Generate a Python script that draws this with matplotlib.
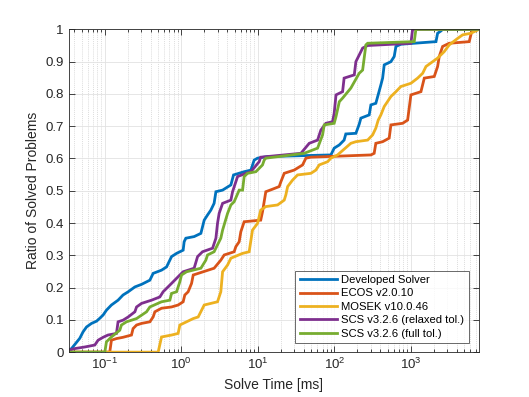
import numpy as np
import matplotlib
matplotlib.use("Agg")
import matplotlib.pyplot as plt
from matplotlib.ticker import LogLocator, FixedLocator, NullFormatter

plt.rcParams['font.family'] = ['Liberation Sans', 'DejaVu Sans']

labels = ["Developed Solver", "ECOS v2.0.10", "MOSEK v10.0.46",
          "SCS v3.2.6 (relaxed tol.)", "SCS v3.2.6 (full tol.)"]
colors = ["#0072BD", "#D95319", "#EDB120", "#7E2F8E", "#77AC30"]

# Solve times [ms] and ratios of solved problems (polyline vertices)
dev_t = [0.0338, 0.0367, 0.0471, 0.052, 0.0577, 0.067, 0.078, 0.086, 0.095, 0.105, 0.122,
         0.149, 0.173, 0.202, 0.247, 0.302, 0.388, 0.428, 0.551, 0.641, 0.745, 0.866, 1.056,
         1.088, 1.145, 1.47, 1.80, 1.99, 2.20, 2.43, 2.68, 2.83, 3.46, 4.44, 4.81, 6.62, 8.10,
         8.95, 9.91, 13.4, 90.0, 99.4, 116, 134, 141, 191, 211, 222, 285, 300, 348, 405, 427,
         448, 548, 605, 637, 740, 2125, 2234, 2466, 2595, 7700]
dev_r = [0.006, 0.011, 0.043, 0.063, 0.078, 0.089, 0.096, 0.105, 0.115, 0.130, 0.146,
         0.161, 0.177, 0.187, 0.202, 0.210, 0.223, 0.244, 0.254, 0.264, 0.296, 0.306, 0.316,
         0.342, 0.353, 0.358, 0.368, 0.409, 0.425, 0.440, 0.461, 0.497, 0.502, 0.518, 0.549, 0.559, 0.564,
         0.595, 0.601, 0.606, 0.611, 0.632, 0.642, 0.657, 0.676, 0.678, 0.706, 0.725, 0.735, 0.766, 0.771, 0.828, 0.849,
         0.890, 0.900, 0.916, 0.947, 0.954, 0.962, 0.988, 0.995, 1.0, 1.0]

ecos_t = [0.0338, 0.116, 0.122, 0.142, 0.173, 0.223, 0.234, 0.260, 0.302, 0.388, 0.428, 0.451,
          0.551, 0.745, 0.908, 1.056, 1.11, 1.227, 1.36, 1.43, 1.66, 2.68, 3.28, 3.63, 4.90,
          5.16, 5.70, 5.99, 6.62, 10.9, 11.5, 12.7, 15.6, 19.0, 20.0, 22.1, 25.6, 29.8, 38.4,
          42.4, 49.3, 300, 331, 348, 427, 520, 548, 780, 906, 1000, 1352, 1496, 2018, 2234,
          2345, 2595, 3169, 5781, 6220, 7447, 7700]
ecos_r = [0.0, 0.0, 0.037, 0.042, 0.046, 0.053, 0.073, 0.084, 0.089, 0.094, 0.109, 0.125,
          0.136, 0.140, 0.146, 0.156, 0.177, 0.187, 0.213, 0.239, 0.244, 0.260, 0.285, 0.301, 0.311,
          0.327, 0.342, 0.373, 0.404, 0.409, 0.435, 0.497, 0.505, 0.513, 0.528, 0.554, 0.559, 0.564, 0.580,
          0.601, 0.604, 0.611, 0.616, 0.647, 0.652, 0.663, 0.704, 0.709, 0.719, 0.797, 0.807, 0.849, 0.854, 0.885,
          0.916, 0.947, 0.957, 0.962, 0.993, 1.0, 1.0]

mosek_t = [0.0338, 0.498, 0.551, 0.745, 0.908, 0.956, 1.17, 1.43, 1.66, 1.99, 2.97, 3.28, 3.46,
           4.02, 4.44, 6.31, 7.70, 8.5, 9.91, 10.9, 12.7, 18.1, 22.1, 23.2, 24.5, 28.4, 33.0,
           49.3, 57.3, 63.3, 81.5, 90.0, 110, 164, 191, 272, 316, 348, 374, 405, 448, 548, 637,
           740, 1000, 1224, 1425, 1574, 1925, 2234, 2724, 3169, 4077, 4742, 6082, 7447, 7700]
mosek_r = [0.0, 0.0, 0.047, 0.053, 0.058, 0.084, 0.094, 0.104, 0.109, 0.146, 0.156, 0.187, 0.249,
           0.270, 0.291, 0.306, 0.311, 0.378, 0.399, 0.440, 0.451, 0.456, 0.471, 0.487, 0.513, 0.533, 0.549,
           0.554, 0.564, 0.580, 0.590, 0.601, 0.611, 0.647, 0.652, 0.657, 0.673, 0.694, 0.719, 0.735, 0.761, 0.792, 0.807,
           0.823, 0.833, 0.849, 0.864, 0.885, 0.900, 0.911, 0.931, 0.952, 0.972, 0.983, 0.988, 0.998, 1.0]

scs_rel_t = [0.0338, 0.0405, 0.0548, 0.074, 0.0817, 0.095, 0.110, 0.142, 0.149, 0.173, 0.202, 0.247,
             0.260, 0.302, 0.408, 0.524, 0.578, 0.745, 0.956, 1.056, 1.47, 1.63, 1.89, 2.56, 2.83,
             2.97, 3.12, 3.46, 4.44, 4.67, 5.43, 6.97, 8.10, 10.4, 10.9, 36.5, 46.9, 60.3, 66.6,
             77.4, 94.7, 99.4, 105, 128, 134, 182, 191, 234, 272, 1000, 1052, 7700]
scs_rel_r = [0.006, 0.011, 0.016, 0.022, 0.037, 0.046, 0.053, 0.058, 0.094, 0.099, 0.109, 0.125,
             0.140, 0.151, 0.161, 0.171, 0.187, 0.213, 0.239, 0.249, 0.260, 0.296, 0.311, 0.322, 0.353,
             0.399, 0.430, 0.461, 0.471, 0.497, 0.544, 0.554, 0.559, 0.590, 0.604, 0.616, 0.647, 0.657, 0.688,
             0.709, 0.714, 0.740, 0.797, 0.807, 0.849, 0.859, 0.900, 0.942, 0.950, 0.957, 1.0, 1.0]

scs_full_t = [0.0338, 0.1, 0.105, 0.122, 0.157, 0.165, 0.192, 0.260, 0.351, 0.388, 0.551, 0.708,
              0.745, 0.866, 0.956, 1.006, 1.17, 1.80, 2.09, 2.20, 2.68, 3.28, 3.46, 4.02, 4.44,
              4.90, 5.70, 6.31, 6.62, 7.33, 9.42, 11.5, 12.1, 12.7, 40.3, 60.3, 70.1, 73.6, 99.4,
              105, 116, 128, 164, 211, 234, 258, 272, 1105, 1162, 7700]
scs_full_r = [0.0, 0.0, 0.032, 0.047, 0.068, 0.084, 0.094, 0.104, 0.125, 0.140, 0.156, 0.161,
              0.182, 0.187, 0.218, 0.239, 0.249, 0.260, 0.285, 0.301, 0.311, 0.353, 0.378, 0.430, 0.456,
              0.466, 0.502, 0.502, 0.544, 0.554, 0.559, 0.580, 0.595, 0.601, 0.616, 0.632, 0.673, 0.704, 0.709,
              0.730, 0.776, 0.787, 0.818, 0.864, 0.874, 0.952, 0.957, 0.962, 1.0, 1.0]

series = [(dev_t, dev_r), (ecos_t, ecos_r), (mosek_t, mosek_r),
          (scs_rel_t, scs_rel_r), (scs_full_t, scs_full_r)]

xticks = [1e-1, 1e0, 1e1, 1e2, 1e3]
yticks = [0, 0.1, 0.2, 0.3, 0.4, 0.5, 0.6, 0.7, 0.8, 0.9, 1]
ytick_labels = ["0", "0.1", "0.2", "0.3", "0.4", "0.5", "0.6", "0.7", "0.8", "0.9", "1"]

fig = plt.figure(figsize=(5.29, 3.97), dpi=100)
ax = fig.add_axes([0.13, 0.113, 0.775, 0.813])

for (t, r), c, lab in zip(series, colors, labels):
    ax.plot(t, r, color=c, lw=2.0, label=lab, solid_joinstyle='miter')

ax.set_xscale('log')
ax.set_xlim(0.0338, 7700)
ax.set_ylim(0, 1)
ax.xaxis.set_major_locator(FixedLocator(xticks))
ax.xaxis.set_minor_locator(LogLocator(base=10, subs=np.arange(2, 10), numticks=20))
ax.xaxis.set_minor_formatter(NullFormatter())
ax.set_yticks(yticks)
ax.set_yticklabels(ytick_labels)

ax.grid(True, which='major', color='#e2e2e2', lw=0.6, ls='-')
ax.grid(True, which='minor', axis='x', color='#d0d0d0', lw=0.5, ls=(0, (1.5, 1.5)))
ax.set_axisbelow(True)

ax.tick_params(which='both', direction='in', top=True, right=True, colors='#262626',
               labelsize=9.5, width=0.6)
ax.tick_params(which='major', length=4)
ax.tick_params(which='minor', length=2.2)
for s in ax.spines.values():
    s.set_color('#262626')
    s.set_linewidth(0.6)

ax.set_xlabel("Solve Time [ms]", fontsize=10, color='#262626', labelpad=4)
ax.set_ylabel("Ratio of Solved Problems", fontsize=10, color='#262626', labelpad=4)

leg = ax.legend(loc='lower right', bbox_to_anchor=(0.976, 0.028), fontsize=8.1, frameon=True,
                fancybox=False, edgecolor='#262626', handlelength=3.3, handletextpad=0.4,
                borderpad=0.4, labelspacing=0.3, borderaxespad=0)
leg.get_frame().set_linewidth(0.6)

fig.savefig("out.png", dpi=100, facecolor='white')
